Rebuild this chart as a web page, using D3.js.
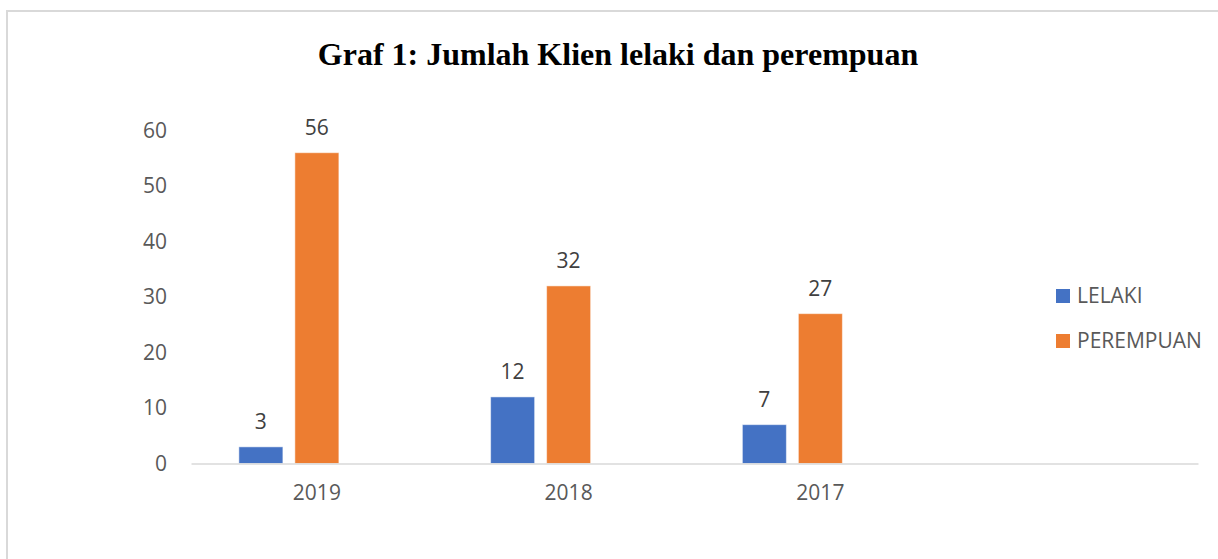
<!DOCTYPE html>
<html>
<head>
<meta charset="utf-8">
<script src="https://cdn.jsdelivr.net/npm/d3@7"></script>
<style>
  body { margin: 0; background: #fff; }
  svg { display: block; }
</style>
</head>
<body>
<div id="chart"></div>
<script>
// data
const years = ["2019", "2018", "2017", ""];   // the 4th slot is an empty category in the original sheet
const lelaki = [3, 12, 7, null];
const perempuan = [56, 32, 27, null];
const seriesNames = ["LELAKI", "PEREMPUAN"];
const seriesColors = ["#4472C4", "#ED7D31"];
const yTicks = [0, 10, 20, 30, 40, 50, 60];

const W = 1218, H = 559;
const svg = d3.select("#chart").append("svg").attr("width", W).attr("height", H);

// frame around the chart area
svg.append("path")
    .attr("d", `M7,${H + 5} V11 H${W + 5}`)
    .attr("fill", "none").attr("stroke", "#D9D9D9").attr("stroke-width", 2);

// title
svg.append("text")
    .attr("x", 618).attr("y", 65)
    .attr("text-anchor", "middle")
    .style("font-family", "'Liberation Serif', 'Times New Roman', serif")
    .style("font-weight", "bold").style("font-size", "32px")
    .text("Graf 1: Jumlah Klien lelaki dan perempuan");

const x0 = d3.scaleBand().domain(years).range([191, 1198]).paddingInner(0).paddingOuter(0);
// three bar slots per group; Excel kept room for a third (empty) series
const x1 = d3.scaleBand().domain([0, 1, 2]).range([0, 156]).paddingInner(0.214);
const y = d3.scaleLinear().domain([0, 60]).range([463.5, 130.5]);

const font = "'Open Sans', 'Noto Sans', sans-serif";
const fs = "21px";

// y axis labels (no gridlines)
svg.append("g").selectAll("text").data(yTicks).enter().append("text")
    .attr("x", 167).attr("y", d => y(d)).attr("dy", "0.35em")
    .attr("text-anchor", "end")
    .style("font-family", font).style("font-size", fs).style("fill", "#595959")
    .text(d => d);

// bars
const series = [lelaki, perempuan];
const groups = svg.append("g").selectAll("g").data(years).enter().append("g")
    .attr("transform", d => `translate(${x0(d) + x0.bandwidth() / 2 - 78},0)`);

series.forEach((vals, si) => {
    groups.filter((d, i) => vals[i] != null)
        .append("rect")
        .attr("x", x1(si))
        .attr("width", x1.bandwidth())
        .attr("y", (d) => y(vals[years.indexOf(d)]))
        .attr("height", (d) => y(0) - y(vals[years.indexOf(d)]))
        .attr("fill", seriesColors[si])
        .attr("stroke", "#fff").attr("stroke-opacity", 0.5).attr("stroke-width", 1);

    groups.filter((d, i) => vals[i] != null)
        .append("text")
        .attr("x", x1(si) + x1.bandwidth() / 2)
        .attr("y", (d) => y(vals[years.indexOf(d)]) - 18)
        .attr("text-anchor", "middle")
        .style("font-family", font).style("font-size", fs).style("fill", "#404040")
        .text(d => vals[years.indexOf(d)]);
});

// x axis
const xAxis = svg.append("g").attr("transform", `translate(0,${y(0)})`)
    .call(d3.axisBottom(x0).tickSize(0).tickPadding(22));
xAxis.select(".domain").attr("stroke", "#D9D9D9").attr("stroke-width", 1.5);
xAxis.selectAll("text")
    .style("font-family", font).style("font-size", fs).style("fill", "#595959");

// legend
const legend = svg.append("g").attr("transform", "translate(1056,289)");
seriesNames.forEach((name, i) => {
    const item = legend.append("g").attr("transform", `translate(0,${i * 45})`);
    item.append("rect").attr("width", 14).attr("height", 14).attr("fill", seriesColors[i]);
    item.append("text").attr("x", 21).attr("y", 7).attr("dy", "0.35em")
        .style("font-family", font).style("font-size", fs).style("fill", "#595959")
        .text(name);
});
</script>
</body>
</html>
